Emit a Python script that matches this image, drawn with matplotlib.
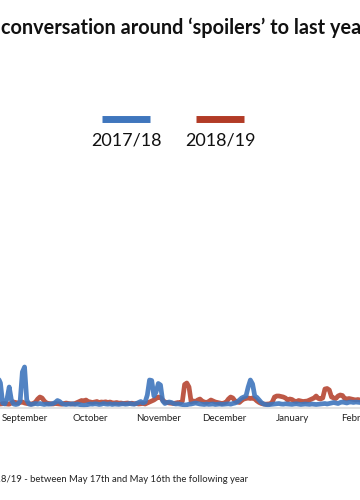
import matplotlib
matplotlib.use("Agg")
import matplotlib.pyplot as plt
from matplotlib.lines import Line2D

plt.rcParams['font.family'] = ['Lato', 'DejaVu Sans']

# Day index counted from May 17 (start of each season); window shown ~ Aug 18 .. Feb 5
start_day = 93
blue_1718 = [
    80, 160, 300, 250, 50, 40, 90, 210, 80, 40,
    35, 40, 70, 360, 410, 80, 40, 35, 40, 45,
    40, 45, 40, 35, 40, 38, 40, 45, 55, 75,
    65, 45, 38, 35, 40, 38, 42, 36, 40, 35,
    30, 25, 30, 35, 40, 38, 42, 40, 35, 38,
    45, 40, 38, 42, 35, 40, 38, 36, 40, 42,
    38, 40, 45, 40, 38, 45, 55, 65, 50, 60,
    130, 280, 275, 120, 160, 245, 230, 70, 45, 55,
    60, 55, 45, 40, 42, 38, 35, 30, 32, 38,
    40, 45, 50, 45, 40, 38, 35, 40, 36, 38,
    40, 35, 38, 40, 36, 38, 40, 42, 38, 45,
    50, 60, 80, 100, 110, 120, 210, 280, 240, 120,
    105, 80, 55, 40, 35, 30, 35, 38, 40, 42,
    45, 40, 38, 42, 40, 38, 36, 40, 42, 38,
    35, 38, 40, 38, 36, 40, 38, 35, 38, 40,
    42, 45, 40, 45, 50, 55, 50, 45, 55, 60,
    55, 50, 58, 60, 55, 60, 58, 55, 60, 58,
    55, 55,
]
red_1819 = [
    40, 42, 38, 40, 42, 45, 40, 38, 50, 60,
    55, 50, 55, 60, 50, 45, 42, 40, 45, 60,
    90, 110, 100, 70, 50, 45, 42, 40, 45, 42,
    40, 38, 45, 50, 45, 42, 40, 45, 55, 65,
    75, 70, 80, 65, 60, 55, 60, 65, 55, 60,
    58, 62, 55, 60, 52, 50, 55, 48, 50, 45,
    48, 50, 45, 48, 42, 45, 40, 42, 45, 40,
    50, 60, 70, 80, 95, 110, 105, 80, 60, 55,
    50, 48, 45, 50, 55, 50, 70, 235, 250, 210,
    60, 70, 65, 80, 90, 70, 60, 55, 65, 80,
    70, 60, 55, 50, 45, 50, 60, 90, 110, 100,
    70, 60, 55, 75, 90, 95, 100, 95, 100, 90,
    70, 55, 45, 40, 38, 40, 42, 60, 110, 120,
    120, 115, 110, 100, 80, 90, 85, 70, 65, 75,
    70, 65, 68, 70, 80, 90, 100, 120, 95, 90,
    100, 190, 195, 180, 110, 100, 95, 120, 130, 125,
    95, 90, 95, 90, 85, 80, 85, 80, 85, 80,
    82, 80,
]
month_days = [107, 137, 168, 198, 229, 260]
month_labels = ['September', 'October', 'November', 'December', 'January', 'February']
series_labels = ['2017/18', '2018/19']

days_b = list(range(start_day, start_day + len(blue_1718)))
days_r = list(range(start_day, start_day + len(red_1819)))

BLUE = '#3f76bd'
RED = '#b23b26'

W, H = 360, 500
fig = plt.figure(figsize=(W / 100, H / 100), dpi=100)
fig.patch.set_facecolor('white')

ax = fig.add_axes([0, 1 - 408 / H, 1, 250 / H])
ax.plot(days_r, red_1819, color=RED, lw=3.4, alpha=0.85, solid_joinstyle='round', solid_capstyle='round')
ax.plot(days_b, blue_1718, color=BLUE, lw=3.4, alpha=0.9, solid_joinstyle='round', solid_capstyle='round')
ax.set_xlim(95.8, 257.2)
ax.set_ylim(0, 2500)
for s in ['top', 'right', 'left']:
    ax.spines[s].set_visible(False)
ax.spines['bottom'].set_color('#dedede')
ax.spines['bottom'].set_linewidth(1.2)
ax.set_yticks([])
ax.set_xticks(month_days)
ax.set_xticklabels(month_labels, fontsize=7, color='#222222')
ax.tick_params(axis='x', length=0, pad=4)

# Title (cropped in the reference)
fig.text(1 / W, 1 - 28 / H, 'conversation around \u2018spoilers\u2019 to last year',
         ha='left', va='center', fontsize=14.3, fontweight='bold', color='#111111')

# Legend (line above label)
for (x0, x1), col, lab in [((102, 150), BLUE, series_labels[0]), ((196, 244), RED, series_labels[1])]:
    fig.add_artist(Line2D([x0 / W, x1 / W], [1 - 119 / H, 1 - 119 / H], transform=fig.transFigure,
                          color=col, lw=5, solid_capstyle='butt'))
    fig.text((x0 + x1) / 2 / W, 1 - 140 / H, lab, ha='center', va='center',
             fontsize=13, fontweight='normal', color='#111111')

# Footnote (cropped on the left)
fig.text(248 / W, 1 - 479 / H, 'Data: 2017/18 and 2018/19 - between May 17th and May 16th the following year',
         ha='right', va='center', fontsize=6.8, color='#222222')

fig.savefig('out.png', dpi=100, facecolor='white')
